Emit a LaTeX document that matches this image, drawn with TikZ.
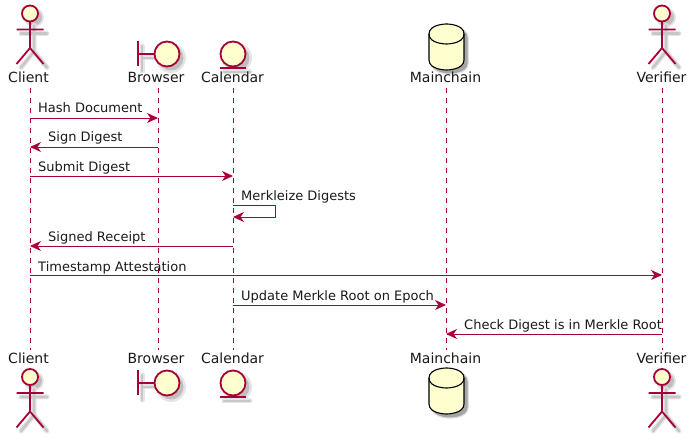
\documentclass[tikz,border=0pt]{standalone}
\usepackage{fontspec}
\setmainfont{DejaVu Sans}
\usetikzlibrary{arrows.meta}

\definecolor{umlline}{HTML}{A80036}
\definecolor{umlfill}{HTML}{FEFECE}

\tikzset{
  lifeline/.style={umlline, line width=0.9pt, dash pattern=on 5pt off 5pt},
  msg/.style={umlline, line width=0.9pt, -{Stealth[length=11pt,width=10pt,inset=3.5pt]}},
  msglabel/.style={font=\fontsize{13}{15}\selectfont, text=black!90, inner sep=0pt, anchor=base west},
  partname/.style={font=\fontsize{14}{16}\selectfont, text=black!90, inner sep=0pt, anchor=base},
  glyph/.style={draw=umlline, line width=1.8pt, fill=umlfill},
  glyphline/.style={draw=umlline, line width=1.8pt},
  softshade/.style={draw=black!10, line width=5pt, line cap=round},
  shade2/.style={draw=black!22, line width=2.6pt, line cap=round}
}

% stick figure, head centre at (#1,#2)
\newcommand{\actorfig}[2]{
  \begin{scope}[shift={(#1,#2)}]
    \fill[black!10] (4,4) circle (10);
    \fill[black!25] (4,4) circle (8);
    \draw[softshade] (4,12) -- (4,38) (-9,20) -- (17,20) (4,38) -- (-9,54) (4,38) -- (17,54);
    \draw[shade2] (4,12) -- (4,38) (-9,20) -- (17,20) (4,38) -- (-9,54) (4,38) -- (17,54);
    \draw[glyph] (0,0) circle (8);
    \draw[glyphline] (0,8) -- (0,34.5) (-13.5,16) -- (13.5,16) (0,34.5) -- (-13.5,50.5) (0,34.5) -- (13.5,50.5);
  \end{scope}
}
% boundary symbol, circle centre at (#1,#2)
\newcommand{\boundaryfig}[2]{
  \begin{scope}[shift={(#1,#2)}]
    \fill[black!10] (4,4) circle (15);
    \fill[black!25] (4,4) circle (12.5);
    \draw[softshade] (-25,4) -- (-9,4) (-25,-8) -- (-25,17);
    \draw[shade2] (-25,4) -- (-9,4) (-25,-8) -- (-25,17);
    \draw[glyph] (0,0) circle (12.5);
    \draw[glyphline] (-12.5,0) -- (-29,0) (-29,-12.5) -- (-29,12.5);
  \end{scope}
}
% entity symbol, circle centre at (#1,#2)
\newcommand{\entityfig}[2]{
  \begin{scope}[shift={(#1,#2)}]
    \fill[black!10] (4,4) circle (15);
    \fill[black!25] (4,4) circle (12.5);
    \draw[softshade] (-9,18) -- (17,18);
    \draw[shade2] (-9,18) -- (17,18);
    \draw[glyph] (0,0) circle (12.5);
    \draw[glyphline] (-13,14) -- (13,14);
  \end{scope}
}
% database, top left corner at (#1,#2)
\newcommand{\dbpath}{
  (0,10) .. controls (0,0) and (17.5,0) .. (17.5,0)
  .. controls (17.5,0) and (35,0) .. (35,10)
  -- (35,36) .. controls (35,46) and (17.5,46) .. (17.5,46)
  .. controls (17.5,46) and (0,46) .. (0,36) -- cycle
}
\newcommand{\dbfig}[2]{
  \begin{scope}[shift={(#1,#2)}]
    \fill[black!12, shift={(3.5,3.5)}] [draw=black!12, line width=2.5pt] \dbpath;
    \fill[black!35, shift={(3.5,3.5)}] \dbpath;
    \draw[fill=umlfill, draw=black, line width=1.1pt] \dbpath;
    \draw[black, line width=1.1pt] (0,10) .. controls (0,20) and (17.5,20) .. (17.5,20)
      .. controls (17.5,20) and (35,20) .. (35,10);
  \end{scope}
}

\begin{document}
\begin{tikzpicture}[x=1pt, y=-1pt, line join=round]
  \useasboundingbox (0,0) rectangle (694,438);

  % ---- lifelines, one named point per message row ----
  \foreach \who/\x in {client/30, browser/158, calendar/233, mainchain/446, verifier/662} {
    \coordinate (\who top) at (\x,88);
    \coordinate (\who bot) at (\x,350);
    \draw[lifeline] (\who top) -- (\who bot);
    \foreach \row/\y in {1/118, 2/147, 3/176, 4/205, 5/217, 6/246, 7/275, 8/305, 9/334} {
      \coordinate (\who\row) at (\x,\y);
    }
  }

  % ---- top row ----
  \actorfig{30}{13.5}
  \boundaryfig{167}{54}
  \entityfig{233}{54}
  \dbfig{429}{24}
  \actorfig{662}{13.5}
  \node[partname] (clienttopname) at (28.5,83) {Client};
  \node[partname] (browsertopname) at (156,83) {Browser};
  \node[partname] (calendartopname) at (232.5,83) {Calendar};
  \node[partname] (mainchaintopname) at (445.5,83) {Mainchain};
  \node[partname] (verifiertopname) at (661.5,83) {Verifier};

  % ---- bottom row ----
  \node[partname] (clientbotname) at (28.5,364) {Client};
  \node[partname] (browserbotname) at (156,364) {Browser};
  \node[partname] (calendarbotname) at (232.5,364) {Calendar};
  \node[partname] (mainchainbotname) at (445.5,364) {Mainchain};
  \node[partname] (verifierbotname) at (661.5,364) {Verifier};
  \actorfig{30}{377}
  \boundaryfig{167}{383}
  \entityfig{233}{383}
  \dbfig{429}{368}
  \actorfig{662}{377}

  % ---- messages ----
  \draw[msg] (client1) -- (browser1);
  \node[msglabel] (hashlabel) at (38,113) {Hash Document};
  \draw[msg] (browser2) -- (client2);
  \node[msglabel] (signlabel) at (48,142) {Sign Digest};
  \draw[msg] (client3) -- (calendar3);
  \node[msglabel] (submitlabel) at (38,171.5) {Submit Digest};
  \draw[msg] (calendar4) -- ++(42.5,0) |- (calendar5);
  \node[msglabel] (merklelabel) at (241,201) {Merkleize Digests};
  \draw[msg] (calendar6) -- (client6);
  \node[msglabel] (receiptlabel) at (48,242) {Signed Receipt};
  \draw[msg] (client7) -- (verifier7);
  \node[msglabel] (timelabel) at (38,271.5) {Timestamp Attestation};
  \draw[msg] (calendar8) -- (mainchain8);
  \node[msglabel] (updatelabel) at (241,300.5) {Update Merkle Root on Epoch};
  \draw[msg] (verifier9) -- (mainchain9);
  \node[msglabel] (checklabel) at (464,329.5) {Check Digest is in Merkle Root};
\end{tikzpicture}
\end{document}
